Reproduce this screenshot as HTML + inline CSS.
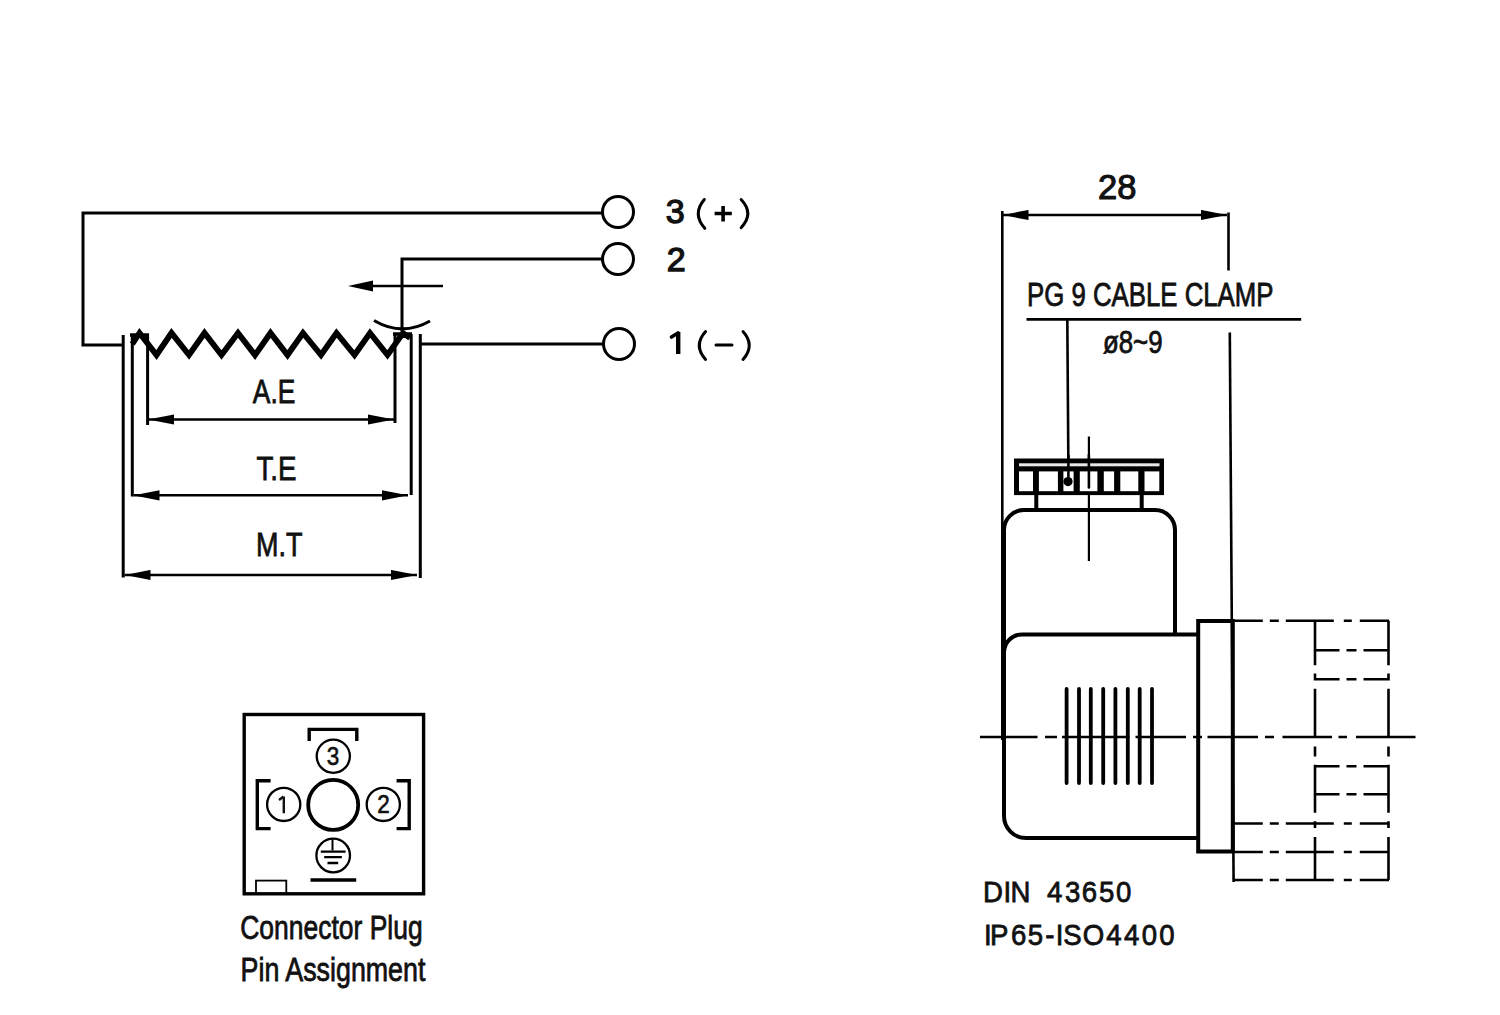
<!DOCTYPE html>
<html>
<head>
<meta charset="utf-8">
<style>
html,body{margin:0;padding:0;background:#fff;}
body{width:1500px;height:1015px;overflow:hidden;position:relative;}
svg{position:absolute;left:0;top:0;}
text{font-family:"Liberation Sans",sans-serif;fill:#111;}
.tx{stroke:#111;stroke-width:0.8;}
</style>
</head>
<body>
<svg width="1500" height="1015" viewBox="0 0 1500 1015">
<defs>
<marker id="ah" viewBox="0 0 26 11" refX="26" refY="5.5" markerWidth="26" markerHeight="11" markerUnits="userSpaceOnUse" orient="auto-start-reverse">
<path d="M0,0.4 L26,5.5 L0,10.6 Z" fill="#000"/>
</marker>
</defs>
<!-- ===== LEFT: potentiometer schematic ===== -->
<g fill="none" stroke="#000" stroke-width="3">
<path d="M602,213 H83 V345 H123"/>
<path d="M402,331 V259 H602"/>
<path d="M420,344 H603.5"/>
<circle cx="618" cy="212" r="15.5"/>
<circle cx="618" cy="259" r="15.5"/>
<circle cx="619" cy="344" r="15.5"/>
<!-- wiper arrow -->
<path d="M368,286 H443" stroke-width="2.6"/>
<path d="M348,286 L373,280.5 L373,291.5 Z" fill="#000" stroke="none"/>
<!-- wiper arc -->
<path d="M374,320.5 Q402,337 430,321" stroke-width="3"/>
<!-- zigzag -->
<path d="M132.3,344 L139.5,333 L156.5,355 L171.5,333 L189,355 L204.5,333 L221.5,355 L238,333 L255,355 L270.5,333 L287.5,355 L303,333 L321,355 L336.5,333 L354.5,355 L370,333 L387.5,355 L403,333 L410,338" stroke-width="5.8" stroke-linejoin="miter" stroke-miterlimit="6"/>
<path d="M130,335 H149" stroke-width="3.5"/>
<path d="M393,334 H412" stroke-width="3.5"/>
<!-- extension verticals -->
<path d="M123.2,335 V577.5"/>
<path d="M132.3,335 V496.5"/>
<path d="M147.6,335 V425"/>
<path d="M395,334 V423"/>
<path d="M411.2,334 V495"/>
<path d="M420.3,334 V578"/>
<!-- dimension lines -->
<path d="M148,419.5 H394" stroke-width="2.6" marker-start="url(#ah)" marker-end="url(#ah)"/>
<path d="M133.5,495.3 H408" stroke-width="2.6" marker-start="url(#ah)" marker-end="url(#ah)"/>
<path d="M124.5,575 H417" stroke-width="2.6" marker-start="url(#ah)" marker-end="url(#ah)"/>
</g>
<g class="tx" font-size="34">
<text x="252.8" y="403" textLength="42.5" lengthAdjust="spacingAndGlyphs">A.E</text>
<text x="256.5" y="479.5" textLength="40" lengthAdjust="spacingAndGlyphs">T.E</text>
<text x="256" y="556" textLength="46.4" lengthAdjust="spacingAndGlyphs">M.T</text>
</g>
<!-- pin labels -->
<g font-size="34" text-anchor="middle" style="stroke:#111;stroke-width:1.3">
<text x="675.2" y="222.6">3</text>
<text x="676.1" y="270.6">2</text>
</g>
<g fill="none" stroke="#000" stroke-linecap="round">
<!-- 3 ( + ) -->
<path d="M704.3,199.5 Q692,214 704.8,228.3" stroke-width="3"/>
<path d="M741.1,199.5 Q754.5,213.5 741.1,227.7" stroke-width="3"/>
<path d="M714.6,213.5 H731.8 M723.1,206 V221.5" stroke-width="3.6" stroke-linecap="butt"/>
<!-- 1 ( - ) -->
<path d="M705.6,331.5 Q693,345.5 705.6,359.5" stroke-width="3"/>
<path d="M743,331.5 Q755.5,345.5 743,359.5" stroke-width="3"/>
<path d="M716,345 H732" stroke-width="3"/>
<path d="M678.2,332 V354" stroke-width="4.4" stroke-linecap="butt"/>
<path d="M671.5,337 L678,333" stroke-width="3.6"/>
</g>

<!-- ===== RIGHT: connector drawing ===== -->
<g fill="none" stroke="#000" stroke-width="2.6">
<path d="M1002.3,211 V740"/>
<path d="M1228.5,212.5 V270.5"/>
<path d="M1229.8,332.5 L1233.6,882"/>
<path d="M1002.5,215 H1227" marker-start="url(#ah)" marker-end="url(#ah)"/>
<path d="M1026.5,319.4 H1301.2"/>
<path d="M1067.3,319 L1068.5,480"/>
<!-- vertical centerline through gland -->
<path d="M1088.9,436.5 V561" stroke-width="2.2"/>
</g>
<text x="1117.2" y="199" font-size="34.5" text-anchor="middle" style="stroke:#111;stroke-width:1.1">28</text>
<text class="tx" x="1027" y="306.4" font-size="33" textLength="246.5" lengthAdjust="spacingAndGlyphs">PG 9 CABLE CLAMP</text>
<text class="tx" x="1103" y="352.6" font-size="31" textLength="59.5" lengthAdjust="spacingAndGlyphs">ø8~9</text>

<!-- gland nut -->
<rect x="1014" y="458.5" width="150" height="36.6" fill="#000"/>
<g fill="#fff">
<rect x="1019" y="463.3" width="140.5" height="3" fill="#e8e8e8"/>
<rect x="1019" y="471.4" width="14" height="19.8"/>
<rect x="1038.9" y="471.4" width="19" height="19.8"/>
<rect x="1063.4" y="471.4" width="10.2" height="19.8"/>
<rect x="1079.8" y="471.4" width="17.6" height="19.8"/>
<rect x="1103.8" y="471.4" width="10.3" height="19.8"/>
<rect x="1120.3" y="471.4" width="18" height="19.8"/>
<rect x="1144.5" y="471.4" width="14.8" height="19.8"/>
</g>
<circle cx="1068" cy="481.6" r="4.6" fill="#000"/>
<path d="M1068.4,455 V478" stroke="#000" stroke-width="2.6"/>
<path d="M1088.9,455 V487.5" stroke="#000" stroke-width="2.6" stroke-linecap="round"/>
<g fill="none" stroke="#000" stroke-width="4">
<path d="M1036.3,494 V510 M1141.7,494 V510"/>
<!-- upper body -->
<path d="M1004,652 V530 A20,20 0 0 1 1024,510 H1155 A20,20 0 0 1 1175,530 V634"/>
<!-- lower body -->
<path d="M1198,634.5 H1022 A18,18 0 0 0 1004,652.5 V816 A22,22 0 0 0 1026,838 H1198"/>
<!-- flange -->
<rect x="1198.2" y="621" width="34.6" height="230.5"/>
<!-- fins -->
<path d="M1066.6,689 V783 M1079,689 V783 M1090.8,689 V783 M1103.2,689 V783 M1115.4,689 V783 M1127.8,689 V783 M1139.7,689 V783 M1152,689 V783" stroke-linecap="round" stroke-width="3.8"/>
</g>
<g fill="none" stroke="#000" stroke-width="2.6">
<path d="M980,737 H1037.5 M1045,737 H1057 M1062,737 H1129.5 M1135.5,737 H1186 M1193,737 H1202 M1207.5,737 H1258 M1265,737 H1274 M1282.5,737 H1332 M1338.5,737 H1347 M1356,737 H1415.5"/>
<path d="M1233.8,620.8 H1262.8 M1269.8,620.8 H1278.8 M1285.8,620.8 H1333.8 M1343.8,620.8 H1351.8 M1359.8,620.8 H1389.0 M1315.0,650.3 H1339.5 M1346.5,650.3 H1356.5 M1363.5,650.3 H1388.5 M1315.0,679.3 H1339.5 M1346.5,679.3 H1356.5 M1363.5,679.3 H1388.5 M1315.0,766.3 H1339.5 M1346.5,766.3 H1356.5 M1363.5,766.3 H1388.5 M1315.0,794.3 H1339.5 M1346.5,794.3 H1356.5 M1363.5,794.3 H1388.5 M1233.8,823.5 H1262.8 M1269.8,823.5 H1278.8 M1285.8,823.5 H1333.8 M1343.8,823.5 H1351.8 M1359.8,823.5 H1389.0 M1233.8,852.0 H1262.8 M1269.8,852.0 H1278.8 M1285.8,852.0 H1333.8 M1343.8,852.0 H1351.8 M1359.8,852.0 H1389.0 M1233.8,880.0 H1262.8 M1269.8,880.0 H1278.8 M1285.8,880.0 H1333.8 M1343.8,880.0 H1351.8 M1359.8,880.0 H1389.0 M1315.0,620.8 V665.2 M1315.0,673.5 V680.4 M1315.0,688.7 V737 M1315.0,746.5 V756.4 M1315.0,764.8 V812.8 M1315.0,821.3 V828 M1315.0,837 V880 M1388.5,620.8 V665.2 M1388.5,673.5 V680.4 M1388.5,688.7 V737 M1388.5,746.5 V756.4 M1388.5,764.8 V812.8 M1388.5,821.3 V828 M1388.5,837 V880"/>
</g>
<g class="tx" font-size="30" text-anchor="middle">
<text transform="translate(0,902.3) scale(0.92,1)"><tspan x="1079.3 1094.9 1109.2 1146.4 1165.9 1184.3 1202.8 1221.5" y="0">DIN43650</tspan></text>
<text transform="translate(0,944.8) scale(0.92,1)"><tspan x="1073.7 1086.1 1107.2 1125.4 1141.2 1151.6 1165.7 1188.5 1210.7 1230.2 1249.3 1268.3" y="0">IP65-ISO4400</tspan></text>
</g>

<!-- ===== Connector plug pin assignment ===== -->
<g fill="none" stroke="#000" stroke-width="3.4">
<rect x="244.2" y="714.5" width="179.4" height="179.3"/>
<path d="M309.2,741 V729.4 H356.8 V741"/>
<path d="M270.6,780.8 H257.3 V828.6 H270.6"/>
<path d="M396.6,780.8 H409.2 V828.6 H396.6"/>
<path d="M310.5,880 H356.2" stroke-width="3.7"/>
<circle cx="333.2" cy="804.9" r="25" stroke-width="3.8"/>
</g>
<g fill="none" stroke="#000" stroke-width="2.3">
<circle cx="333.3" cy="756.2" r="16.6"/>
<circle cx="283.7" cy="804.4" r="16.6"/>
<circle cx="383.3" cy="804.4" r="16.6"/>
<circle cx="333.2" cy="855.5" r="16.8"/>
<rect x="256" y="880.6" width="30.3" height="13.3" stroke-width="1.8"/>
<path d="M332.5,838 V850.5" stroke-width="2"/>
<path d="M320.8,851.6 H345.6 M324.2,857.1 H341.9 M327.5,863 H338.2" stroke-width="2.4"/>
</g>
<g class="tx" font-size="25" text-anchor="middle" style="stroke-width:0.6">
<text x="333.1" y="765.3" transform="translate(333.1,0) scale(0.9,1) translate(-333.1,0)">3</text>
<text x="383.6" y="813.2" transform="translate(383.6,0) scale(0.9,1) translate(-383.6,0)">2</text>
</g>
<path d="M283.8,796.5 V813.2 M279,800 L283.5,796.5" stroke="#111" stroke-width="2.4" fill="none"/>
<g class="tx" font-size="33.5">
<text x="240.2" y="939.2" textLength="182.5" lengthAdjust="spacingAndGlyphs">Connector Plug</text>
<text x="240.6" y="980.5" textLength="184.8" lengthAdjust="spacingAndGlyphs">Pin Assignment</text>
</g>
</svg>
</body>
</html>
